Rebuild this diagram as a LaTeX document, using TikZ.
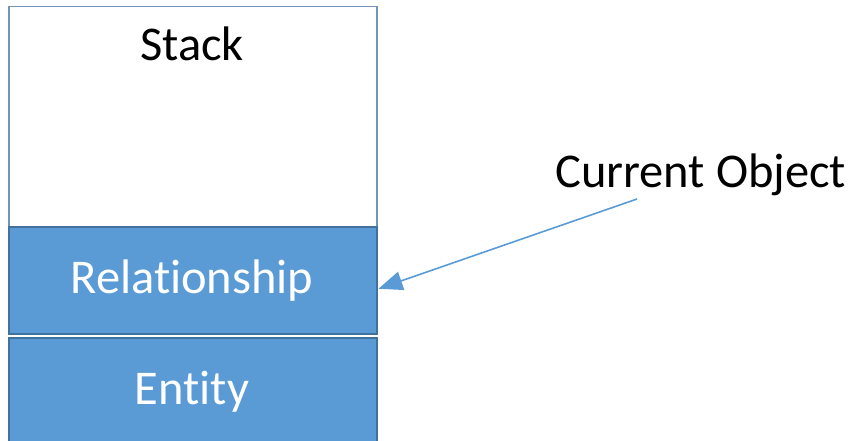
\documentclass[tikz,border=0pt]{standalone}
\usepackage{fontspec}
\setmainfont{Carlito}[Ligatures=NoCommon,Contextuals=NoAlternate]
\usetikzlibrary{arrows.meta,calc}
\definecolor{boxblue}{HTML}{5B9BD5}
\definecolor{edgeblue}{HTML}{41719C}
\definecolor{stackedge}{HTML}{7393B8}
\tikzset{
  lbl/.style={font=\fontsize{48.5}{56}\selectfont, inner sep=0pt},
  bluebox/.style={draw=edgeblue, line width=1.5pt, fill=boxblue, inner sep=0pt},
  stackbox/.style={draw=stackedge, line width=1.5pt, fill=white, inner sep=0pt},
  pointer/.style={draw=boxblue, line width=1.6pt, -{Triangle[length=24pt,width=19pt]}}
}
\begin{document}
\begin{tikzpicture}[x=1pt,y=-1pt]
\useasboundingbox (0,0) rectangle (850,441);
\begin{scope}
\clip (0,0) rectangle (850,441);
\node[stackbox, minimum width=368pt, minimum height=220pt, anchor=north west] (stack) at (8,6) {};
\node[bluebox, minimum width=368pt, minimum height=107pt, anchor=north west] (rel) at (8,226) {};
\node[bluebox, minimum width=368pt, minimum height=115pt, anchor=north west] (ent) at (8,337) {};
\end{scope}
\node[lbl, anchor=base] (stacklbl) at (192,61) {Stack};
\node[lbl, anchor=base, text=white] (rellbl) at (192,293) {Relat\kern0pt ionship};
\node[lbl, anchor=base, text=white] (entlbl) at (192,404) {Entit\kern0pt y};
\node[lbl, anchor=base west] (cur) at (555,187) {Current Object};
\coordinate (start) at (637,199);
\draw[pointer] (start) -- ($(rel.east)+(1,8.5)$);
\end{tikzpicture}
\end{document}
